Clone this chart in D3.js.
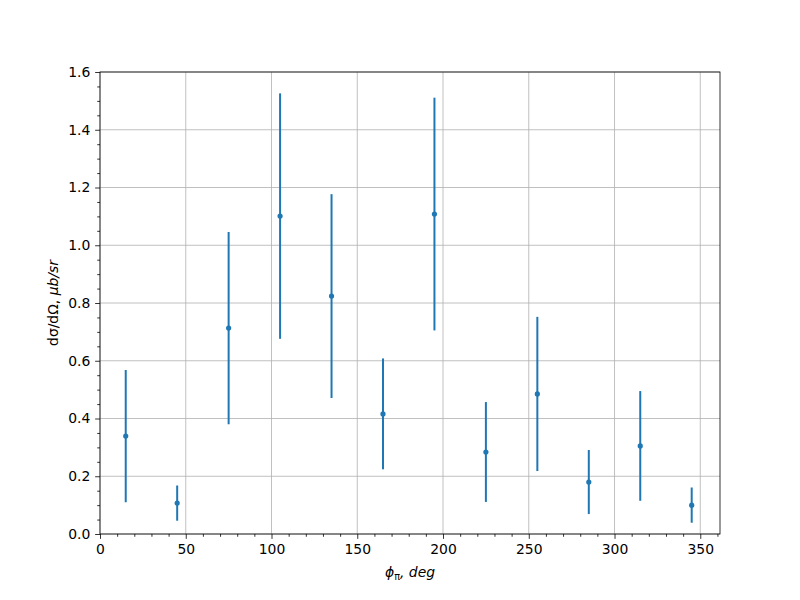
<!DOCTYPE html>
<html><head><meta charset="utf-8">
<script src="https://cdn.jsdelivr.net/npm/d3@7"></script>
<style>body{margin:0;background:#fff}svg{display:block}text{font-family:"DejaVu Sans",sans-serif}</style>
</head><body><svg id="c" width="800" height="600"></svg>
<script>
const phi = [15, 45, 75, 105, 135, 165, 195, 225, 255, 285, 315, 345];
const xsec = [0.339, 0.107, 0.713, 1.101, 0.824, 0.416, 1.108, 0.284, 0.485, 0.180, 0.305, 0.100];
const err = [0.229, 0.061, 0.333, 0.425, 0.353, 0.192, 0.403, 0.173, 0.267, 0.111, 0.190, 0.061];
const xTicks = [0, 50, 100, 150, 200, 250, 300, 350];
const yTicks = [0.0, 0.2, 0.4, 0.6, 0.8, 1.0, 1.2, 1.4, 1.6];

const svg = d3.select("#c");
const L = 100, R = 720, T = 72, B = 534;
const x = d3.scaleLinear().domain([0, 361.5]).range([L, R]);
const y = d3.scaleLinear().domain([0, 1.6]).range([B, T]);
const fs = 13.9;

// grid
const g = svg.append("g");
g.selectAll(".gx").data(xTicks).join("line")
  .attr("x1", d => x(d)).attr("x2", d => x(d)).attr("y1", T).attr("y2", B)
  .attr("stroke", "#b0b0b0").attr("stroke-width", 0.8);
g.selectAll(".gy").data(yTicks).join("line")
  .attr("x1", L).attr("x2", R).attr("y1", d => y(d)).attr("y2", d => y(d))
  .attr("stroke", "#b0b0b0").attr("stroke-width", 0.8);

// error bars
const c = "#1f77b4";
svg.append("g").selectAll("line").data(phi).join("line")
  .attr("x1", d => x(d)).attr("x2", d => x(d))
  .attr("y1", (d, i) => y(xsec[i] - err[i])).attr("y2", (d, i) => y(xsec[i] + err[i]))
  .attr("stroke", c).attr("stroke-width", 2);
svg.append("g").selectAll("circle").data(phi).join("circle")
  .attr("cx", d => x(d)).attr("cy", (d, i) => y(xsec[i])).attr("r", 2.6).attr("fill", c);

// axes
const xAxis = d3.axisBottom(x).tickValues(xTicks).tickFormat(d3.format("d")).tickSize(4.86).tickPadding(4.86);
const xMinor = d3.axisBottom(x).tickValues(d3.range(0, 361, 10).filter(v => v % 50 !== 0)).tickFormat("").tickSize(2.78);
const yAxis = d3.axisLeft(y).tickValues(yTicks).tickFormat(d3.format(".1f")).tickSize(4.86).tickPadding(4.86);
const yMinor = d3.axisLeft(y).tickValues(d3.range(0.05, 1.6, 0.1).concat(d3.range(0.1, 1.6, 0.2))).tickFormat("").tickSize(2.78);

function style(sel) {
  sel.select(".domain").remove();
  sel.selectAll("line").attr("stroke", "#000").attr("stroke-width", 0.8);
  sel.selectAll("text").attr("fill", "#000").style("font-size", fs + "px").style("font-family", "DejaVu Sans");
}
svg.append("g").attr("transform", `translate(0,${B})`).call(xAxis).call(style);
svg.append("g").attr("transform", `translate(0,${B})`).call(xMinor).call(style);
svg.append("g").attr("transform", `translate(${L},0)`).call(yAxis).call(style);
svg.append("g").attr("transform", `translate(${L},0)`).call(yMinor).call(style);

// frame
svg.append("rect").attr("x", L).attr("y", T).attr("width", R - L).attr("height", B - T)
  .attr("fill", "none").attr("stroke", "#000").attr("stroke-width", 0.8);

// labels
const xl = svg.append("text").attr("x", (L + R) / 2).attr("y", 577).attr("text-anchor", "middle")
  .style("font-size", fs + "px").style("font-style", "italic");
xl.append("tspan").text("ϕ");
xl.append("tspan").text("π").attr("dy", 3).style("font-size", "9.7px").style("font-style", "normal");
xl.append("tspan").text(", deg").attr("dy", -3);

const yl = svg.append("text").attr("transform", `translate(58,${(T + B) / 2}) rotate(-90)`).attr("text-anchor", "middle")
  .style("font-size", fs + "px");
yl.append("tspan").text("dσ/dΩ, ");
yl.append("tspan").text("μb/sr").style("font-style", "italic");
</script></body></html>
